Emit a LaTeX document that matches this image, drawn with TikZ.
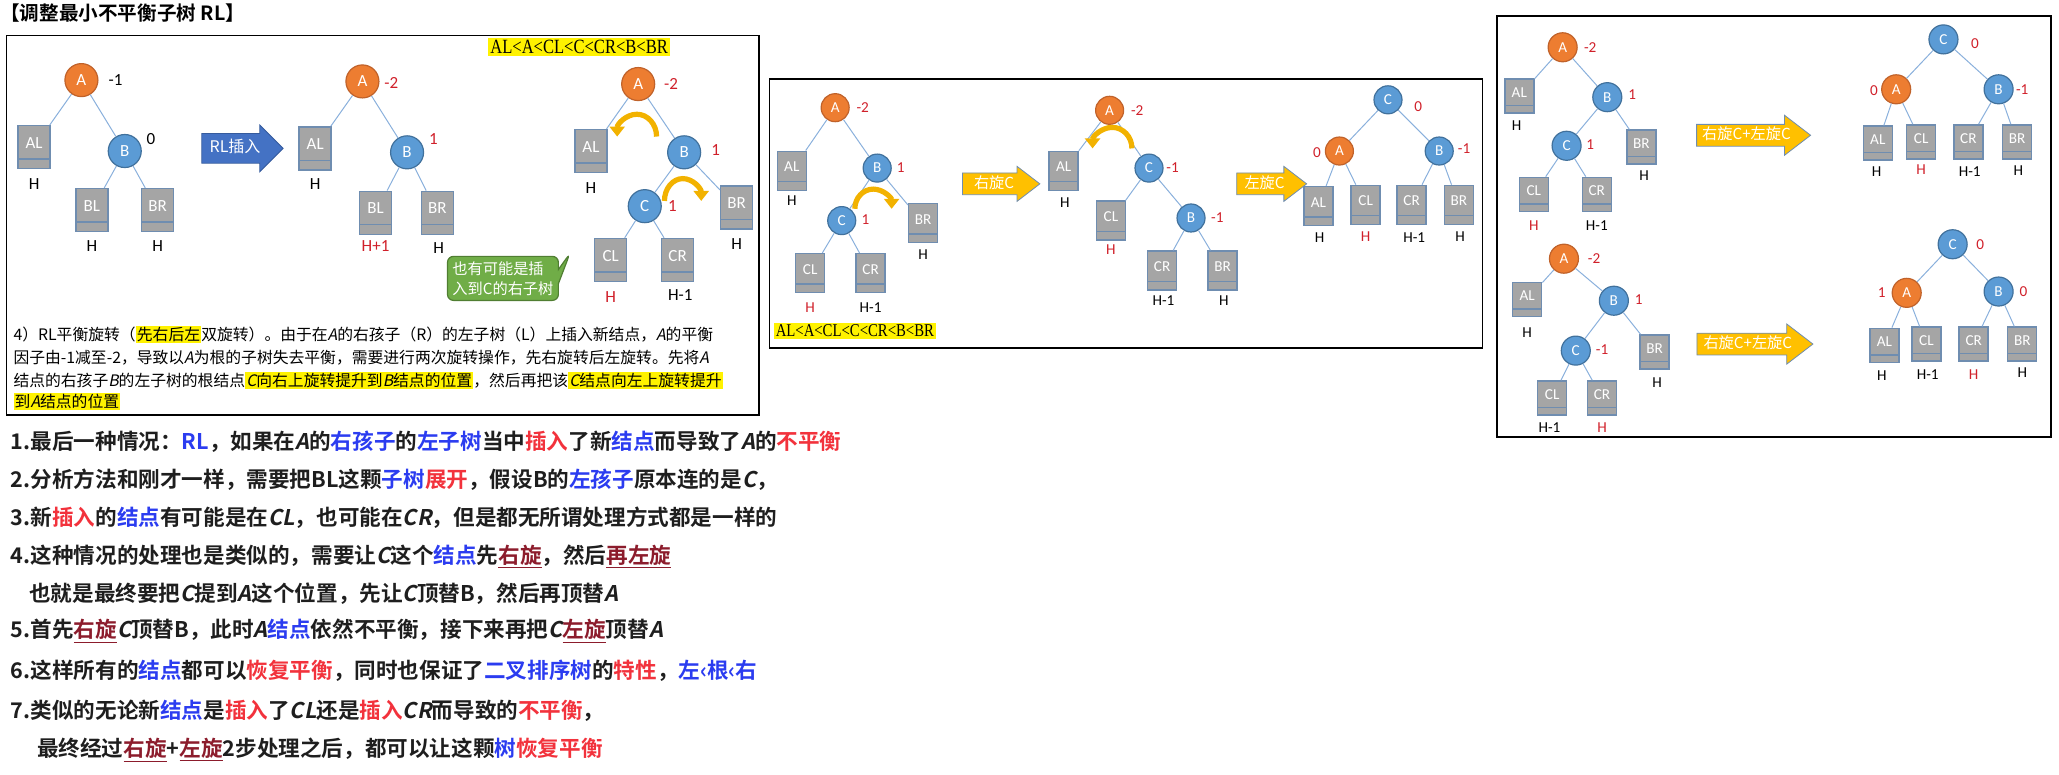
\documentclass[tikz,border=0pt]{standalone}
\usepackage{fontspec}
\setmainfont{Carlito}
\newfontfamily\cjk{Noto Sans CJK SC}[ItalicFont={Noto Sans CJK SC},ItalicFeatures={FakeSlant=0.2}]
\newfontfamily\cjkb{Noto Sans CJK SC Bold}[ItalicFont={Noto Sans CJK SC Bold},ItalicFeatures={FakeSlant=0.2}]
\newfontfamily\ser{Liberation Serif}[FakeStretch=0.82]
\usetikzlibrary{arrows.meta,shapes.arrows,shapes.callouts}
\definecolor{ornode}{HTML}{ED7D31}
\definecolor{oredge}{HTML}{C0622A}
\definecolor{blnode}{HTML}{5B9BD5}
\definecolor{bledge}{HTML}{41719C}
\definecolor{subgray}{HTML}{A5A5A5}
\definecolor{subedge}{HTML}{6F8DB0}
\definecolor{linkblue}{HTML}{8AB0DC}
\definecolor{hred}{HTML}{D0202A}
\definecolor{rotgold}{HTML}{F2B200}
\definecolor{arrgold}{HTML}{FFC000}
\definecolor{arrblue}{HTML}{4472C4}
\definecolor{tipgreen}{HTML}{70AD47}
\definecolor{tipedge}{HTML}{507E32}
\definecolor{txtdark}{HTML}{1E1E1E}
\definecolor{kwblue}{HTML}{2B3CF0}
\definecolor{kwred}{HTML}{F2323C}
\definecolor{kwdark}{HTML}{8C1C2C}
\newcommand\hlt[1]{{\setlength{\fboxsep}{0.6pt}\colorbox{yellow}{\vphantom{国}#1}}}
\newcommand\cblue[1]{{\color{kwblue}#1}}
\newcommand\cred[1]{{\color{kwred}#1}}
\newcommand\culine[1]{{\color{kwdark}\underline{#1}}}
\newcommand\cit[1]{{\itshape #1}}
\def\nd{16.5pt}\def\sw{16pt}\def\sh{21.5pt}
\def\nfont{\fontsize{8.5}{10}\selectfont}
\tikzset{
  an/.style={circle, fill=ornode, draw=oredge, line width=0.6pt, text=white, inner sep=0pt, minimum size=\nd, font=\nfont},
  bn/.style={an, fill=blnode, draw=bledge},
  sub/.style={rectangle, fill=subgray, draw=subedge, line width=0.7pt, inner sep=0pt, minimum width=\sw, minimum height=\sh,
    path picture={\draw[subedge, line width=0.7pt] ([yshift=0.22*\sh]path picture bounding box.south west) -- ([yshift=0.22*\sh]path picture bounding box.south east);},
    label={[text=white, font=\nfont, yshift=0.1*\sh]center:#1}},
  bf/.style={font=\nfont, text=black, inner sep=0pt},
  rbf/.style={bf, text=hred},
  ht/.style={font=\nfont, text=black, inner sep=0pt},
  rht/.style={ht, text=hred},
  link/.style={draw=linkblue, line width=0.5pt},
  rotarc/.style={draw=rotgold, line width=2.6pt, -{Triangle[width=7.5pt,length=5pt]}},
  hl/.style={fill=yellow, inner sep=1pt, font=\ser\fontsize{#1}{#1}\selectfont},
  blarrow/.style={single arrow, fill=arrblue, draw=arrblue!80!black, line width=0.4pt, text=white, font=\cjk\fontsize{8}{9}\selectfont,
    minimum height=40.7pt, single arrow head extend=4.3pt, text height=6pt, text depth=1.5pt, inner ysep=3.45pt, inner xsep=2pt},
  ylarrow/.style={single arrow, single arrow tip angle=75, fill=arrgold, draw=subedge, line width=0.4pt, text=white, font=\cjk\fontsize{7.6}{9}\selectfont,
    text height=6pt, text depth=1.5pt, inner ysep=1.5pt, inner xsep=2pt, single arrow head extend=#1},
  tipbox/.style={rectangle callout, rounded corners=3pt, fill=tipgreen, draw=tipedge, line width=0.6pt, text=white, align=left,
    font=\cjk\fontsize{7.6}{10}\selectfont, inner sep=2.5pt},
  frame/.style={draw=black, line width=0.9pt},
  pl/.style={anchor=west, inner sep=0pt, font=\cjk\fontsize{7.9}{11}\selectfont, text=black},
  ln/.style={anchor=west, inner sep=0pt, font=\cjkb\fontsize{10.8}{13}\selectfont, text=txtdark}
}
\begin{document}
\begin{tikzpicture}[x=0.6566pt, y=-0.6566pt]
\useasboundingbox (0,0) rectangle (1568,590);
\node[anchor=west, inner sep=0pt, font=\cjkb\fontsize{9.8}{11}\selectfont] (title) at (0,10) {【调整最小不平衡子树 RL】};

% panel 1
\draw[frame] (5,27) rectangle (578,316);
\node[an] (a1) at (62,61) {A}; \node[bf] (a1f) at (88,61) {-1};
\node[sub=AL] (al1) at (26,112) {}; \node[ht] (al1h) at (26,140) {H};
\node[bn] (b1) at (95,115) {B}; \node[bf] (b1f) at (115,106) {0};
\node[sub=BL] (bl1) at (70,160) {}; \node[ht] (bl1h) at (70,187) {H};
\node[sub=BR] (br1) at (120,160) {}; \node[ht] (br1h) at (120,187) {H};
\node[blarrow] (ins) at (179,113) {RL插入};

\node[an] (a2) at (276,62) {A}; \node[rbf] (a2f) at (298,63) {-2};
\node[sub=AL] (al2) at (240,113) {}; \node[ht] (al2h) at (240,140) {H};
\node[bn] (b2) at (310,116) {B}; \node[rbf] (b2f) at (330,106) {1};
\node[sub=BL] (bl2) at (286,162) {}; \node[rht] (bl2h) at (286,187) {H+1};
\node[sub=BR] (br2) at (333,162) {}; \node[ht] (br2h) at (334,189) {H};

\node[hl=10.1] (ord1) at (441,36) {AL<A<CL<C<CR<B<BR};
\node[an] (a3) at (486,64) {A}; \node[rbf] (a3f) at (511,64) {-2};
\node[sub=AL] (al3) at (450,115) {}; \node[ht] (al3h) at (450,143) {H};
\node[bn] (b3) at (521,116) {B}; \node[rbf] (b3f) at (545,114) {1};
\node[bn] (c3) at (491,157) {C}; \node[rbf] (c3f) at (512,157) {1};
\node[sub=BR] (br3) at (561,158) {}; \node[ht] (br3h) at (561,186) {H};
\node[sub=CL] (cl3) at (465,198) {}; \node[rht] (cl3h) at (465,226) {H};
\node[sub=CR] (cr3) at (516,198) {}; \node[ht] (cr3h) at (518,225) {H-1};
\foreach \p/\q in {a1/al1,a1/b1,b1/bl1,b1/br1,a2/al2,a2/b2,b2/bl2,b2/br2,a3/al3,a3/b3,b3/c3,b3/br3,c3/cl3,c3/cr3}
  \draw[link] (\p) -- (\q);
\draw[rotarc] (500,104) arc[start angle=0, end angle=-180, x radius=15, y radius=17];
\draw[rotarc] (506,153) arc[start angle=180, end angle=360, x radius=14, y radius=17];
\node[tipbox, callout absolute pointer={(434,193)}] (tip) at (383,212) {也有可能是插\\入到C的右子树};

\node[pl] (p1) at (10,255) {4）RL平衡旋转（\hlt{先右后左}双旋转）。由于在\cit{A}的右孩子（R）的左子树（L）上插入新结点，\cit{A}的平衡};
\node[pl] (p2) at (10,272) {因子由-1减至-2，导致以\cit{A}为根的子树失去平衡，需要进行两次旋转操作，先右旋转后左旋转。先将\cit{A}};
\node[pl] (p3) at (10,290) {结点的右孩子\cit{B}的左子树的根结点\hlt{\cit{C}向右上旋转提升到\cit{B}结点的位置}，然后再把该\hlt{\cit{C}结点向左上旋转提升}};
\node[pl] (p4) at (10,306) {\hlt{到\cit{A}结点的位置}};

% panel 2
\begin{scope}
\def\nd{14pt}\def\sw{14.5pt}\def\sh{19.5pt}\def\nfont{\fontsize{7.6}{9}\selectfont}
\draw[frame] (586,60) rectangle (1129,265);
\node[an] (a4) at (636,82) {A}; \node[rbf] (a4f) at (657,82) {-2};
\node[sub=AL] (al4) at (603,130) {}; \node[ht] (al4h) at (603,153) {H};
\node[bn] (b4) at (668,128) {B}; \node[rbf] (b4f) at (686,128) {1};
\node[bn] (c4) at (641,168) {C}; \node[rbf] (c4f) at (659,167) {1};
\node[sub=BR] (br4) at (703,170) {}; \node[ht] (br4h) at (703,194) {H};
\node[sub=CL] (cl4) at (617,208) {}; \node[rht] (cl4h) at (617,234) {H};
\node[sub=CR] (cr4) at (663,208) {}; \node[ht] (cr4h) at (663,234) {H-1};
\node[hl=9] (ord2) at (651,252) {AL<A<CL<C<CR<B<BR};
\node[ylarrow=3.3pt, minimum height=38.7pt] (rr) at (757,140) {右旋C};

\node[an] (a5) at (845,84) {A}; \node[rbf] (a5f) at (866,84) {-2};
\node[sub=AL] (al5) at (810,130) {}; \node[ht] (al5h) at (811,154) {H};
\node[bn] (c5) at (875,128) {C}; \node[rbf] (c5f) at (893,128) {-1};
\node[sub=CL] (cl5) at (846,168) {}; \node[rht] (cl5h) at (846,190) {H};
\node[bn] (b5) at (907,166) {B}; \node[rbf] (b5f) at (927,166) {-1};
\node[sub=CR] (cr5) at (885,206) {}; \node[ht] (cr5h) at (886,229) {H-1};
\node[sub=BR] (br5) at (931,206) {}; \node[ht] (br5h) at (932,229) {H};
\node[ylarrow=3.3pt, minimum height=35pt] (rl) at (963,140) {左旋C};

\node[bn] (c6) at (1057,76) {C}; \node[rbf] (c6f) at (1080,81) {0};
\node[an] (a6) at (1020,115) {A}; \node[rbf] (a6f) at (1003,116) {0};
\node[bn] (b6) at (1096,115) {B}; \node[rbf] (b6f) at (1115,113) {-1};
\node[sub=AL] (al6) at (1004,157) {}; \node[ht] (al6h) at (1005,181) {H};
\node[sub=CL] (cl6) at (1040,156) {}; \node[rht] (cl6h) at (1040,180) {H};
\node[sub=CR] (cr6) at (1075,156) {}; \node[ht] (cr6h) at (1077,181) {H-1};
\node[sub=BR] (br6) at (1111,156) {}; \node[ht] (br6h) at (1112,180) {H};
\foreach \p/\q in {a4/al4,a4/b4,b4/c4,b4/br4,c4/cl4,c4/cr4,a5/al5,a5/c5,c5/cl5,c5/b5,b5/cr5,b5/br5,c6/a6,c6/b6,a6/al6,a6/cl6,b6/cr6,b6/br6}
  \draw[link] (\p) -- (\q);
\draw[rotarc] (651,159) arc[start angle=180, end angle=360, x radius=14, y radius=15];
\draw[rotarc] (862,113) arc[start angle=0, end angle=-180, x radius=15, y radius=16];
\end{scope}

% panel 3
\begin{scope}
\def\nd{14.5pt}\def\sw{14.5pt}\def\sh{17pt}\def\nfont{\fontsize{7.6}{9}\selectfont}
\draw[frame] (1140,12) rectangle (1562,333);
\node[an] (a7) at (1190,36) {A}; \node[rbf] (a7f) at (1211,36) {-2};
\node[sub=AL] (al7) at (1157,73) {}; \node[ht] (al7h) at (1155,96) {H};
\node[bn] (b7) at (1224,74) {B}; \node[rbf] (b7f) at (1243,72) {1};
\node[bn] (c7) at (1193,111) {C}; \node[rbf] (c7f) at (1211,110) {1};
\node[sub=BR] (br7) at (1250,112) {}; \node[ht] (br7h) at (1252,134) {H};
\node[sub=CL] (cl7) at (1168,148) {}; \node[rht] (cl7h) at (1168,172) {H};
\node[sub=CR] (cr7) at (1216,148) {}; \node[ht] (cr7h) at (1216,172) {H-1};
\node[ylarrow=4.6pt, minimum height=57pt] (rot1) at (1330,103) {右旋C+左旋C};

\node[bn] (c8) at (1480,30) {C}; \node[rbf] (c8f) at (1504,33) {0};
\node[an] (a8) at (1444,68) {A}; \node[rbf] (a8f) at (1427,69) {0};
\node[bn] (b8) at (1522,68) {B}; \node[rbf] (b8f) at (1540,68) {-1};
\node[sub=AL] (al8) at (1430,109) {}; \node[ht] (al8h) at (1429,131) {H};
\node[sub=CL] (cl8) at (1463,108) {}; \node[rht] (cl8h) at (1463,129) {H};
\node[sub=CR] (cr8) at (1499,108) {}; \node[ht] (cr8h) at (1500,131) {H-1};
\node[sub=BR] (br8) at (1536,108) {}; \node[ht] (br8h) at (1537,130) {H};

\node[an] (a9) at (1191,197) {A}; \node[rbf] (a9f) at (1214,197) {-2};
\node[sub=AL] (al9) at (1163,228) {}; \node[ht] (al9h) at (1163,253) {H};
\node[bn] (b9) at (1229,229) {B}; \node[rbf] (b9f) at (1248,228) {1};
\node[bn] (c9) at (1200,267) {C}; \node[rbf] (c9f) at (1220,266) {-1};
\node[sub=BR] (br9) at (1260,268) {}; \node[ht] (br9h) at (1262,291) {H};
\node[sub=CL] (cl9) at (1182,303) {}; \node[ht] (cl9h) at (1180,326) {H-1};
\node[sub=CR] (cr9) at (1220,303) {}; \node[rht] (cr9h) at (1220,326) {H};
\node[ylarrow=4.6pt, minimum height=58pt] (rot2) at (1331,262) {右旋C+左旋C};

\node[bn] (c10) at (1487,186) {C}; \node[rbf] (c10f) at (1508,186) {0};
\node[an] (a10) at (1452,223) {A}; \node[rbf] (a10f) at (1433,223) {1};
\node[bn] (b10) at (1522,222) {B}; \node[rbf] (b10f) at (1541,222) {0};
\node[sub=AL] (al10) at (1435,263) {}; \node[ht] (al10h) at (1433,286) {H};
\node[sub=CL] (cl10) at (1467,262) {}; \node[ht] (cl10h) at (1468,285) {H-1};
\node[sub=CR] (cr10) at (1503,262) {}; \node[rht] (cr10h) at (1503,285) {H};
\node[sub=BR] (br10) at (1540,262) {}; \node[ht] (br10h) at (1540,284) {H};
\foreach \p/\q in {a7/al7,a7/b7,b7/c7,b7/br7,c7/cl7,c7/cr7,c8/a8,c8/b8,a8/al8,a8/cl8,b8/cr8,b8/br8,
  a9/al9,a9/b9,b9/c9,b9/br9,c9/cl9,c9/cr9,c10/a10,c10/b10,a10/al10,a10/cl10,b10/cr10,b10/br10}
  \draw[link] (\p) -- (\q);
\end{scope}

% notes
\node[ln] (n1) at (8,336) {1.最后一种情况：\cblue{RL}，如果在\cit{A}的\cblue{右孩子}的\cblue{左子树}当中\cred{插入}了新\cblue{结点}而导致了\cit{A}的\cred{不平衡}};
\node[ln] (n2) at (8,365) {2.分析方法和刚才一样，需要把BL这颗\cblue{子树}\cred{展开}，假设B的\cblue{左孩子}原本连的是\cit{C}，};
\node[ln] (n3) at (8,394) {3.新\cred{插入}的\cblue{结点}有可能是在\cit{CL}，也可能在\cit{CR}，但是都无所谓处理方式都是一样的};
\node[ln] (n4) at (8,424) {4.这种情况的处理也是类似的，需要让\cit{C}这个\cblue{结点}先\culine{右旋}，然后\culine{再左旋}};
\node[ln] (n4b) at (22,452) {也就是最终要把\cit{C}提到\cit{A}这个位置，先让\cit{C}顶替B，然后再顶替\cit{A}};
\node[ln] (n5) at (8,481) {5.首先\culine{右旋}\cit{C}顶替B，此时\cit{A}\cblue{结点}依然不平衡，接下来再把\cit{C}\culine{左旋}顶替\cit{A}};
\node[ln] (n6) at (8,511) {6.这样所有的\cblue{结点}都可以\cred{恢复平衡}，同时也保证了\cblue{二叉排序树}的\cred{特性}，\cblue{左‹根‹右}};
\node[ln] (n7) at (8,541) {7.类似的无论新\cblue{结点}是\cred{插入}了\cit{CL}还是\cred{插入}\cit{CR}而导致的\cred{不平衡}，};
\node[ln] (n7b) at (28,571) {最终经过\culine{右旋}+\culine{左旋}2步处理之后，都可以让这颗\cblue{树}\cred{恢复平衡}};
\end{tikzpicture}
\end{document}
